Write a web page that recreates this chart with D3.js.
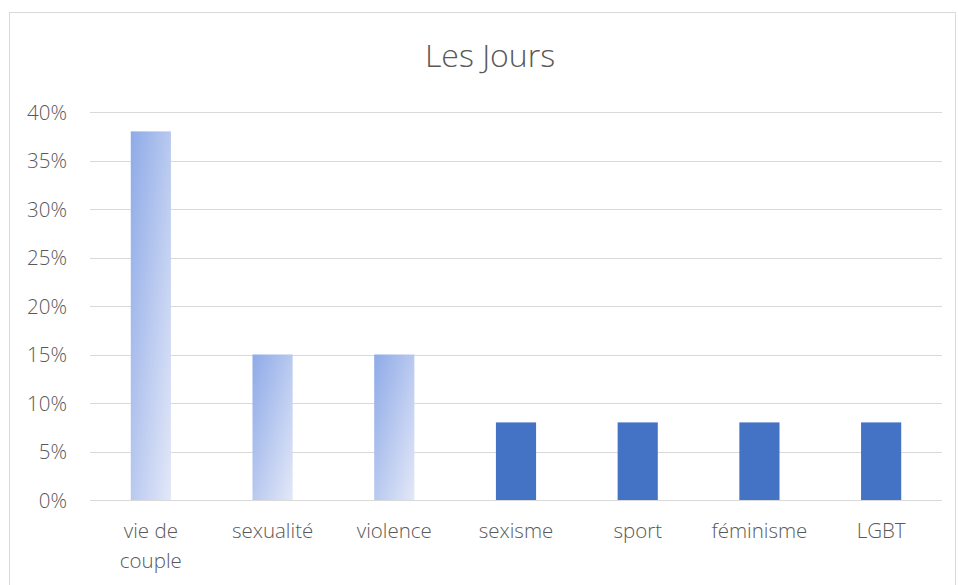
<!DOCTYPE html>
<html>
<head>
<meta charset="utf-8">
<script src="https://cdn.jsdelivr.net/npm/d3@7"></script>
<style>
  html, body { margin: 0; padding: 0; background: #fff; }
  svg { display: block; }
  text { font-family: "Open Sans", Lato, sans-serif; fill: #595959; font-weight: 300; }
</style>
</head>
<body>
<svg id="chart" width="959" height="585"></svg>
<script>
// Topics and their share of articles
const categories = ["vie de couple", "sexualité", "violence", "sexisme", "sport", "féminisme", "LGBT"];
const shares = [0.38, 0.15, 0.15, 0.08, 0.08, 0.08, 0.08];
const gradientBars = [true, true, true, false, false, false, false];
const yTicks = [0, 0.05, 0.10, 0.15, 0.20, 0.25, 0.30, 0.35, 0.40];
const title = "Les Jours";

const svg = d3.select("#chart");
const plot = { left: 90, right: 942, top: 112, bottom: 500 };
const FONT = "'Open Sans', Lato, sans-serif";
const LABEL_SIZE = "20.5px";

// Outer chart frame
svg.append("rect")
  .attr("x", 9.5).attr("y", 12.5)
  .attr("width", 946).attr("height", 600)
  .attr("fill", "#fff").attr("stroke", "#d9d9d9").attr("stroke-width", 1);

// Light-blue diagonal fill for the highlighted bars
const defs = svg.append("defs");
const grad = defs.append("linearGradient")
  .attr("id", "barGrad")
  .attr("x1", 0).attr("y1", 0).attr("x2", 1).attr("y2", 1);
grad.append("stop").attr("offset", "0%").attr("stop-color", "#8eaae7");
grad.append("stop").attr("offset", "100%").attr("stop-color", "#e3e8f8");

const x = d3.scaleBand().domain(categories).range([plot.left, plot.right]).paddingInner(0.67).paddingOuter(0.335);
const y = d3.scaleLinear().domain([0, 0.40]).range([plot.bottom, plot.top]);

// Horizontal gridlines
svg.append("g")
  .selectAll("line")
  .data(yTicks)
  .join("line")
  .attr("x1", plot.left).attr("x2", plot.right)
  .attr("y1", d => Math.round(y(d)) + 0.5).attr("y2", d => Math.round(y(d)) + 0.5)
  .attr("stroke", "#d9d9d9").attr("stroke-width", 1);

// Y axis labels
const yAxis = d3.axisLeft(y).tickValues(yTicks).tickFormat(d3.format(".0%")).tickSize(0).tickPadding(0);
const yg = svg.append("g").attr("transform", `translate(67,0)`).call(yAxis);
yg.select(".domain").remove();
yg.selectAll("text")
  .style("font-size", LABEL_SIZE).style("font-family", FONT).style("font-weight", 300)
  .attr("fill", "#595959").attr("dy", "0.35em");

// Bars
svg.append("g")
  .selectAll("rect")
  .data(categories.map((c, i) => ({ c, v: shares[i], g: gradientBars[i] })))
  .join("rect")
  .attr("x", d => x(d.c))
  .attr("y", d => y(d.v))
  .attr("width", x.bandwidth())
  .attr("height", d => y(0) - y(d.v))
  .attr("fill", d => d.g ? "url(#barGrad)" : "#4472c4");

// X axis labels (wrapped onto two lines where needed)
const xg = svg.append("g");
categories.forEach(c => {
  const cx = x(c) + x.bandwidth() / 2;
  const words = c === "vie de couple" ? ["vie de", "couple"] : [c];
  const t = xg.append("text")
    .attr("x", cx).attr("y", 538)
    .attr("text-anchor", "middle")
    .style("font-size", LABEL_SIZE);
  words.forEach((w, i) => {
    t.append("tspan").attr("x", cx).attr("dy", i === 0 ? 0 : 30).text(w);
  });
});

// Title
svg.append("text")
  .attr("x", 490).attr("y", 67)
  .attr("text-anchor", "middle")
  .style("font-size", "32px")
  .text(title);
</script>
</body>
</html>
